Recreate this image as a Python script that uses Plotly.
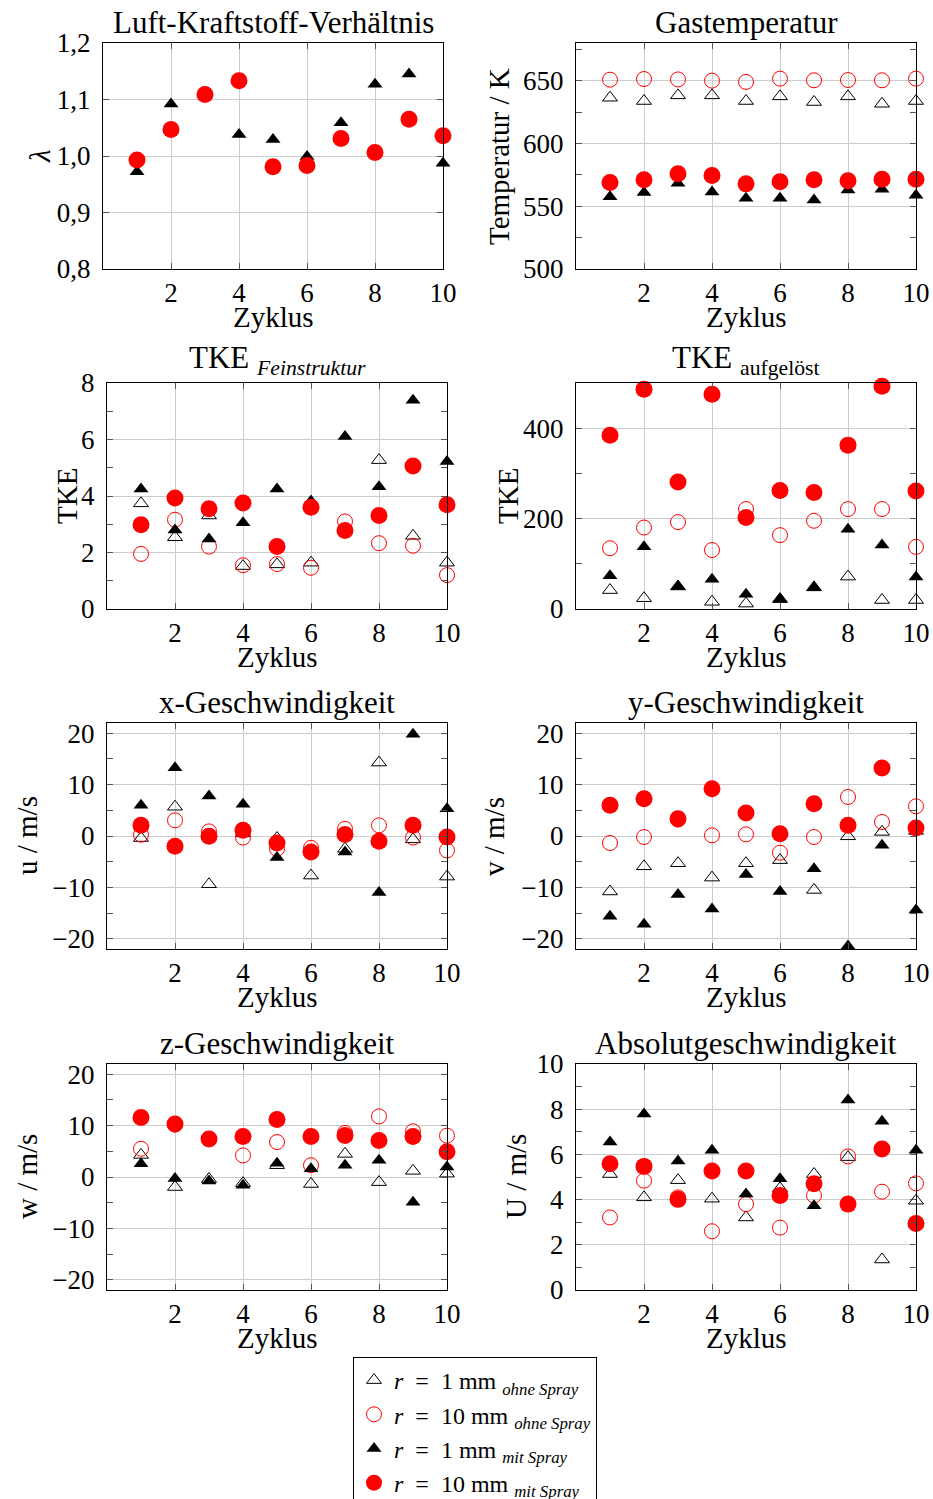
import plotly.graph_objects as go

W, H = 933, 1499
FONT = "Liberation Serif"

zyklus = list(range(1, 11))

# Luft-Kraftstoff-Verhältnis (nur mit Spray)
lam_1mm_ohne = [None] * 10
lam_10mm_ohne = [None] * 10
lam_1mm_mit = [0.972, 1.092, 1.110, 1.038, 1.029, 0.999, 1.059, 1.127, 1.145, 0.987]
lam_10mm_mit = [0.993, 1.047, 1.109, 1.133, 0.981, 0.983, 1.031, 1.006, 1.065, 1.036]

# Gastemperatur / K
temp_1mm_ohne = [636.4, 633.8, 638.3, 638.3, 633.8, 637.5, 633.0, 637.5, 631.6, 633.8]
temp_10mm_ohne = [650.8, 651.3, 651.0, 650.0, 649.0, 651.6, 650.3, 650.5, 650.3, 651.6]
temp_1mm_mit = [557.5, 561.0, 568.3, 561.4, 556.3, 556.4, 555.0, 563.0, 563.5, 558.8]
temp_10mm_mit = [568.9, 571.0, 575.8, 574.5, 567.8, 569.4, 571.0, 570.2, 571.5, 571.5]

# TKE Feinstruktur
tkef_1mm_ohne = [3.74, 2.54, 3.31, 1.52, 1.58, 1.64, 2.85, 5.27, 2.59, 1.64]
tkef_10mm_ohne = [1.95, 3.16, 2.21, 1.55, 1.59, 1.46, 3.10, 2.33, 2.24, 1.20]
tkef_1mm_mit = [4.25, 2.80, 2.48, 3.05, 4.25, 3.82, 6.11, 4.33, 7.39, 5.22]
tkef_10mm_mit = [2.98, 3.93, 3.55, 3.75, 2.21, 3.60, 2.78, 3.31, 5.06, 3.69]

# TKE aufgelöst
tkea_1mm_ohne = [42, 24, 50, 16, 12, 22, 48, 72, 20, 20]
tkea_10mm_ohne = [135, 181, 193, 131, 222, 164, 196, 222, 222, 138]
tkea_1mm_mit = [74, 138, 50, 66, 33, 22, 48, 177, 142, 71]
tkea_10mm_mit = [386, 488, 282, 477, 203, 263, 259, 364, 495, 262]

# x-Geschwindigkeit u / m/s
u_1mm_ohne = [-0.4, 5.7, -9.4, 0.5, -0.4, -7.7, -2.5, 14.3, -0.65, -7.9]
u_10mm_ohne = [0.26, 3.05, 0.9, -0.3, -2.5, -2.3, 1.4, 2.08, -0.3, -2.8]
u_1mm_mit = [5.97, 13.3, 7.8, 6.2, -4.2, -2.9, -3.1, -11.0, 19.8, 5.3]
u_10mm_mit = [2.08, -2.0, -0.06, 1.1, -1.36, -3.1, 0.3, -1.0, 2.08, -0.2]

# y-Geschwindigkeit v / m/s
v_1mm_ohne = [-10.8, -5.9, -5.3, -8.1, -5.3, -4.7, -10.5, -0.06, 0.8, 1.0]
v_10mm_ohne = [-1.36, -0.2, 3.2, 0.13, 0.32, -3.25, -0.2, 7.6, 2.73, 5.78]
v_1mm_mit = [-15.6, -17.2, -11.4, -14.2, -7.5, -10.8, -6.4, -21.4, -1.8, -14.4]
v_10mm_mit = [5.97, 7.27, 3.38, 9.2, 4.5, 0.45, 6.3, 2.08, 13.25, 1.56]

# z-Geschwindigkeit w / m/s
w_1mm_ohne = [4.3, -1.95, -0.4, -1.2, 2.3, -1.36, 4.5, -1.0, 1.2, 0.65]
w_10mm_ohne = [5.5, 10.2, 7.4, 4.2, 6.8, 2.3, 8.6, 11.8, 8.9, 8.05]
w_1mm_mit = [2.6, -0.3, -0.8, -1.6, 2.7, 1.6, 2.3, 3.25, -4.9, 1.95]
w_10mm_mit = [11.6, 10.3, 7.4, 7.9, 11.2, 7.9, 8.1, 7.1, 7.9, 4.9]

# Absolutgeschwindigkeit U / m/s
U_1mm_ohne = [5.13, 4.1, 4.86, 4.04, 3.21, 4.5, 5.13, 5.88, 1.35, 3.95]
U_10mm_ohne = [3.21, 4.84, 4.1, 2.6, 3.8, 2.76, 4.18, 5.91, 4.35, 4.72]
U_1mm_mit = [6.55, 7.79, 5.71, 6.18, 4.25, 4.92, 3.73, 8.41, 7.47, 6.18]
U_10mm_mit = [5.59, 5.47, 4.01, 5.27, 5.27, 4.18, 4.7, 3.8, 6.24, 2.94]

x_ticks = [2, 4, 6, 8, 10]

panels = [
    dict(title="Luft-Kraftstoff-Verhältnis", ylabel="<i>λ</i>",
         series=[lam_1mm_ohne, lam_10mm_ohne, lam_1mm_mit, lam_10mm_mit],
         yrange=[0.8, 1.2], yticks=[0.8, 0.9, 1.0, 1.1, 1.2],
         yticktext=["0,8", "0,9", "1,0", "1,1", "1,2"], minor=None),
    dict(title="Gastemperatur", ylabel="Temperatur / K",
         series=[temp_1mm_ohne, temp_10mm_ohne, temp_1mm_mit, temp_10mm_mit],
         yrange=[500, 680], yticks=[500, 550, 600, 650], yticktext=None, minor=25),
    dict(title="TKE <sub><i>Feinstruktur</i></sub>", ylabel="TKE",
         series=[tkef_1mm_ohne, tkef_10mm_ohne, tkef_1mm_mit, tkef_10mm_mit],
         yrange=[0, 8], yticks=[0, 2, 4, 6, 8], yticktext=None, minor=1),
    dict(title="TKE <sub>aufgelöst</sub>", ylabel="TKE",
         series=[tkea_1mm_ohne, tkea_10mm_ohne, tkea_1mm_mit, tkea_10mm_mit],
         yrange=[0, 502], yticks=[0, 200, 400], yticktext=None, minor=100),
    dict(title="x-Geschwindigkeit", ylabel="u / m/s",
         series=[u_1mm_ohne, u_10mm_ohne, u_1mm_mit, u_10mm_mit],
         yrange=[-22, 22], yticks=[-20, -10, 0, 10, 20], yticktext=None, minor=5),
    dict(title="y-Geschwindigkeit", ylabel="v / m/s",
         series=[v_1mm_ohne, v_10mm_ohne, v_1mm_mit, v_10mm_mit],
         yrange=[-22, 22], yticks=[-20, -10, 0, 10, 20], yticktext=None, minor=5),
    dict(title="z-Geschwindigkeit", ylabel="w / m/s",
         series=[w_1mm_ohne, w_10mm_ohne, w_1mm_mit, w_10mm_mit],
         yrange=[-22, 22], yticks=[-20, -10, 0, 10, 20], yticktext=None, minor=5),
    dict(title="Absolutgeschwindigkeit", ylabel="U / m/s",
         series=[U_1mm_ohne, U_10mm_ohne, U_1mm_mit, U_10mm_mit],
         yrange=[0, 10], yticks=[0, 2, 4, 6, 8, 10], yticktext=None, minor=1),
]

# pixel boxes of the eight axes (left, right, top, bottom)
row_px = [(43, 269), (383, 609), (723, 949), (1064, 1290)]
boxes = []
for r, (top, bot) in enumerate(row_px):
    left_col = (103, 443) if r == 0 else (107, 447)
    boxes.append((left_col[0], left_col[1], top, bot))
    boxes.append((576, 916, top, bot))
ylabel_x = [40, 499, 67, 508, 27, 494, 27, 516]

series_style = [
    dict(name="<i>r</i>  =  1 mm <sub><i>ohne Spray</i></sub>",
         marker=dict(symbol="triangle-up-open", size=13, color="black", line=dict(width=1, color="black"))),
    dict(name="<i>r</i>  =  10 mm <sub><i>ohne Spray</i></sub>",
         marker=dict(symbol="circle-open", size=15, color="red", line=dict(width=1, color="red"))),
    dict(name="<i>r</i>  =  1 mm <sub><i>mit Spray</i></sub>",
         marker=dict(symbol="triangle-up", size=13, color="black", line=dict(width=0))),
    dict(name="<i>r</i>  =  10 mm <sub><i>mit Spray</i></sub>",
         marker=dict(symbol="circle", size=17, color="red", line=dict(width=0))),
]


def px_x(v):
    return v / W


def px_y(v):
    return 1 - v / H


fig = go.Figure()
annotations = []
layout_axes = {}
tick_font = dict(family=FONT, size=27, color="black")
title_font = dict(family=FONT, size=31, color="black")
label_font = dict(family=FONT, size=29, color="black")

for i, p in enumerate(panels):
    n = i + 1
    suffix = "" if n == 1 else str(n)
    left, right, top, bot = boxes[i]
    for k, (vals, st) in enumerate(zip(p["series"], series_style)):
        fig.add_trace(go.Scatter(
            x=zyklus, y=vals, mode="markers", name=st["name"], marker=st["marker"],
            xaxis="x" + suffix, yaxis="y" + suffix, cliponaxis=False,
            legendgroup=str(k), showlegend=(n == 2),
        ))
    common = dict(showline=True, linecolor="black", linewidth=1, mirror="ticks",
                  ticks="inside", ticklen=6, tickcolor="#555", tickwidth=1,
                  showgrid=True, gridcolor="#cccccc", gridwidth=1, zeroline=False,
                  tickfont=tick_font, automargin=False)
    layout_axes["xaxis" + suffix] = dict(
        common, domain=[px_x(left), px_x(right)], anchor="y" + suffix,
        range=[0, 10], tickmode="array", tickvals=x_ticks, ticklabelstandoff=0)
    yax = dict(common, domain=[px_y(bot), px_y(top)], anchor="x" + suffix,
               range=p["yrange"], tickmode="array", tickvals=p["yticks"],
               ticklabelstandoff=6)
    if p["yticktext"]:
        yax["ticktext"] = p["yticktext"]
    if p["minor"]:
        yax["minor"] = dict(tickmode="linear", tick0=0, dtick=p["minor"], ticks="inside",
                            ticklen=6, tickcolor="#555", showgrid=False)
    layout_axes["yaxis" + suffix] = yax

    cx = (left + right) / 2
    annotations.append(dict(text=p["title"], x=px_x(cx), y=px_y(top - 1), xref="paper", yref="paper",
                            xanchor="center", yanchor="bottom", showarrow=False, font=title_font))
    annotations.append(dict(text="Zyklus", x=px_x(cx), y=px_y(bot + 48), xref="paper", yref="paper",
                            xanchor="center", yanchor="middle", showarrow=False, font=label_font))
    annotations.append(dict(text=p["ylabel"], x=px_x(ylabel_x[i]), y=px_y((top + bot) / 2),
                            xref="paper", yref="paper", xanchor="center", yanchor="middle",
                            textangle=-90, showarrow=False, font=label_font))

fig.update_layout(
    width=W, height=H, margin=dict(l=0, r=0, t=0, b=0, autoexpand=False),
    paper_bgcolor="white", plot_bgcolor="white",
    font=dict(family=FONT, color="black"),
    annotations=annotations,
    legend=dict(x=px_x(353), y=px_y(1357), xanchor="left", yanchor="top",
                bgcolor="white", bordercolor="black", borderwidth=1,
                font=dict(family=FONT, size=24, color="black"), tracegroupgap=0),
    **layout_axes,
)

fig.write_html("out.html")
